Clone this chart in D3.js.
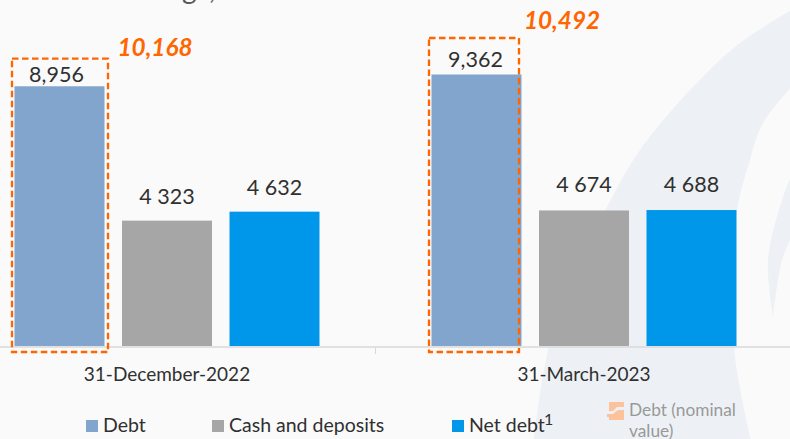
<!DOCTYPE html>
<html lang="en">
  <head>
    <meta charset="UTF-8" />
    <title>Debt and cash</title>
    <script src="https://d3js.org/d3.v7.min.js"></script>
    <style>
      html, body { margin: 0; padding: 0; background: #fafafa; overflow: hidden; }
      svg { display: block; font-family: Lato, "Open Sans", sans-serif; }
    </style>
  </head>
  <body>
    <div id="chart"></div>
    <script>
      // data
      const dates = ["31-December-2022", "31-March-2023"];
      const seriesNames = ["Debt", "Cash and deposits", "Net debt"];
      const seriesColors = ["#82a5ce", "#a6a6a6", "#0096e9"];
      const debt = [8956, 9362];
      const cash = [4323, 4674];
      const netDebt = [4632, 4688];
      const cashLabels = ["4 323", "4 674"];
      const netDebtLabels = ["4 632", "4 688"];
      const debtLabels = ["8,956", "9,362"];
      const nominalDebt = ["10,168", "10,492"];

      const width = 790, height = 439;
      const svg = d3.select("#chart").append("svg").attr("width", width).attr("height", height);

      // background swoosh
      const curve = d3.line().curve(d3.curveCatmullRom);
      const outer = [[800, 5], [740, 43], [690, 90], [640, 150], [607, 207], [570, 285], [548, 350], [533, 445]];
      const inner = [[752, 445], [735, 357], [733, 280], [737, 210], [750, 160], [763, 123], [800, 78]];
      const crescentOut = [[800, 155], [782, 200], [768, 260], [773, 317]];
      const crescentIn = [[773, 317], [783, 257], [800, 222]];
      svg.append("path").attr("fill", "#edf1f5")
        .attr("d", curve(outer) + "L" + curve(inner).slice(1) + "Z");
      svg.append("path").attr("fill", "#edf1f5")
        .attr("d", curve(crescentOut) + "L" + curve(crescentIn).slice(1) + "Z");

      // title cut off by the top edge
      const titleBit = svg.append("text").attr("x", 182).attr("y", -1).attr("font-size", 28).attr("fill", "#595959");
      titleBit.append("tspan").text("g");
      titleBit.append("tspan").attr("x", 209).text(",");

      // scales
      const x0 = d3.scaleBand().domain(dates).range([-41.5, 792.5]);
      const x1 = d3.scaleBand().domain(seriesNames).range([0, x0.bandwidth()]).paddingInner(0.163).paddingOuter(0.521);
      const y = d3.scaleLinear().domain([0, 10000]).range([346, 56]);

      const rows = dates.map((d, i) => ({
        date: d,
        values: [debt[i], cash[i], netDebt[i]],
        labels: [debtLabels[i], cashLabels[i], netDebtLabels[i]],
      }));

      // axis line with the tick between the groups
      svg.append("line").attr("x1", 0).attr("x2", width).attr("y1", 347).attr("y2", 347)
        .attr("stroke", "#d9d9d9").attr("stroke-width", 1.5);
      svg.append("line").attr("x1", x0(dates[1])).attr("x2", x0(dates[1])).attr("y1", 347).attr("y2", 354)
        .attr("stroke", "#d9d9d9");

      const groups = svg.selectAll("g.group").data(rows).join("g").attr("class", "group")
        .attr("transform", (d) => `translate(${x0(d.date)},0)`);

      groups.selectAll("rect").data((d) => d.values).join("rect")
        .attr("x", (d, i) => x1(seriesNames[i]))
        .attr("y", (d) => y(d))
        .attr("width", x1.bandwidth())
        .attr("height", (d) => y(0) - y(d))
        .attr("fill", (d, i) => seriesColors[i]);

      // the labels float at different heights over the bars in the source
      const labelGap = [[4, 17, 17], [8, 18, 18]];
      const labelShift = [[-3, 0, 0], [-1, 0, 0]];
      groups.selectAll("text.val")
        .data((d, g) => d.values.map((v, i) => ({ v, label: d.labels[i], i, g })))
        .join("text")
        .attr("class", "val")
        .attr("x", (d) => x1(seriesNames[d.i]) + x1.bandwidth() / 2 + labelShift[d.g][d.i])
        .attr("y", (d) => y(d.v) - labelGap[d.g][d.i])
        .attr("text-anchor", "middle")
        .attr("font-size", 21.5)
        .attr("fill", "#303030")
        .text((d) => d.label);

      // dashed boxes round the debt bars, not quite lined up with them
      const boxLeft = [12, 429];
      const boxRight = [108, 519];
      const boxTop = [58.7, 38];
      const boxBottom = 352;
      const nominalX = [155, 562];
      const nominalY = [56, 29];
      rows.forEach((r, i) => {
        svg.append("rect")
          .attr("x", boxLeft[i]).attr("y", boxTop[i])
          .attr("width", boxRight[i] - boxLeft[i])
          .attr("height", boxBottom - boxTop[i])
          .attr("fill", "none").attr("stroke", "#ff6600")
          .attr("stroke-width", 2.3).attr("stroke-dasharray", "6.5 3.5");
        svg.append("text")
          .attr("x", nominalX[i]).attr("y", nominalY[i])
          .attr("text-anchor", "middle")
          .attr("font-size", 24.3).attr("font-weight", 700).attr("font-style", "italic")
          .attr("fill", "#ff6600").text(nominalDebt[i]);
        svg.append("text")
          .attr("x", x0(r.date) + x0.bandwidth() / 2).attr("y", 381)
          .attr("text-anchor", "middle").attr("font-size", 19).attr("fill", "#303030")
          .text(r.date);
      });

      // legend
      const legendX = [86, 212, 452];
      const legend = svg.selectAll("g.legend").data(seriesNames).join("g").attr("class", "legend")
        .attr("transform", (d, i) => `translate(${legendX[i]},420)`);
      legend.append("rect").attr("width", 12).attr("height", 12).attr("fill", (d, i) => seriesColors[i]);
      legend.append("text").attr("x", 17).attr("y", 12).attr("font-size", 19.5).attr("fill", "#303030").text((d) => d);
      svg.append("text").attr("x", 544).attr("y", 425).attr("font-size", 16).attr("fill", "#303030").text("1");

      // nominal debt legend entry, washed out in the source
      const icon = svg.append("g").attr("fill", "#fcc39b");
      icon.append("path").attr("d", "M609 402H624V407H617L613 411H609Z");
      icon.append("path").attr("d", "M607 414H613L618 410H624V420H609V417H607Z");
      svg.append("text").attr("x", 629).attr("y", 416).attr("font-size", 17.3).attr("fill", "#999999").text("Debt (nominal");
      svg.append("text").attr("x", 629).attr("y", 437).attr("font-size", 17.3).attr("fill", "#999999").text("value)");
    </script>
  </body>
</html>
